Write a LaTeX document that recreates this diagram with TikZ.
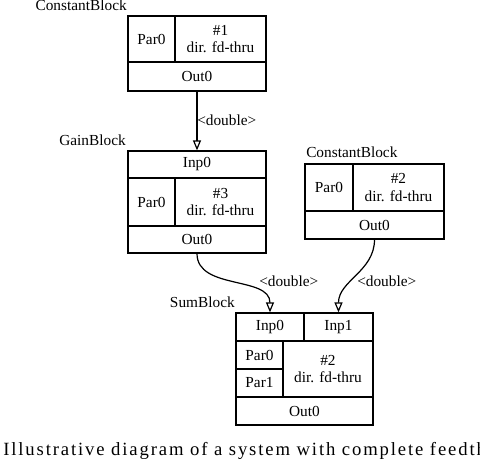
\documentclass[tikz,border=0pt]{standalone}
\usepackage{fontspec}
\setmainfont{Liberation Serif}
\usetikzlibrary{arrows.meta}

\tikzset{
  cell/.style 2 args={draw, line width=0.9pt, inner sep=0pt, align=center,
    minimum width=#1*0.75pt, minimum height=#2*0.75pt,
    font=\fontsize{11.5}{13}\selectfont},
  blockname/.style={inner sep=0pt, font=\fontsize{11.5}{13}\selectfont},
  wire/.style={line width=0.9pt, -{Triangle[open, length=7.5pt, width=6pt]}},
}

\begin{document}
\begin{tikzpicture}[x=0.75pt, y=-0.75pt]
\useasboundingbox (0,0) rectangle (480,460);

% ConstantBlock #1
\node[blockname, anchor=base east] (c1name) at (127,11) {ConstantBlock};
\node[cell={47}{46}] (c1par) at (151.5,39) {Par0};
\node[cell={91}{46}] (c1id) at (220.5,39) {\#1\\dir. fd-thru};
\node[cell={138}{29}] (c1out) at (197,76.5) {Out0};

% GainBlock
\node[blockname, anchor=base east] (gname) at (126,146) {GainBlock};
\node[cell={138}{27}] (ginp) at (197,164.5) {Inp0};
\node[cell={47}{48}] (gpar) at (151.5,202) {Par0};
\node[cell={91}{48}] (gid) at (220.5,202) {\#3\\dir. fd-thru};
\node[cell={138}{27}] (gout) at (197,239.5) {Out0};

% ConstantBlock #2
\node[blockname, anchor=base west] (c2name) at (306,158) {ConstantBlock};
\node[cell={48}{47}] (c2par) at (329,187.5) {Par0};
\node[cell={91}{47}] (c2id) at (398.5,187.5) {\#2\\dir. fd-thru};
\node[cell={139}{28}] (c2out) at (374.5,225) {Out0};

% SumBlock
\node[blockname, anchor=base east] (sname) at (235,308) {SumBlock};
\node[cell={68}{28}] (sinp0) at (270,327) {Inp0};
\node[cell={69}{28}] (sinp1) at (338.5,327) {Inp1};
\node[cell={47}{28}] (spar0) at (259.5,355) {Par0};
\node[cell={47}{28}] (spar1) at (259.5,383) {Par1};
\node[cell={90}{56}] (sid) at (328,369) {\#2\\dir. fd-thru};
\node[cell={137}{28}] (sout) at (304.5,411) {Out0};

% signals
\draw[wire] (c1out.south) -- (ginp.north);
\draw[wire] (gout.south) to[out=-90, in=90] (sinp0.north);
\draw[wire] (c2out.south) to[out=-90, in=90] (sinp1.north);
\node[blockname, anchor=base west] (l1) at (197,126) {<double>};
\node[blockname, anchor=base west] (l2) at (259,287) {<double>};
\node[blockname, anchor=base west] (l3) at (357,287) {<double>};

% caption, runs out at the right edge
\node[inner sep=0pt, anchor=base west, font=\fontsize{14}{16}\selectfont\addfontfeature{LetterSpace=10}]
  (caption) at (3,456) {Illustrative diagram of a system with complete feedth};
\end{tikzpicture}
\end{document}
